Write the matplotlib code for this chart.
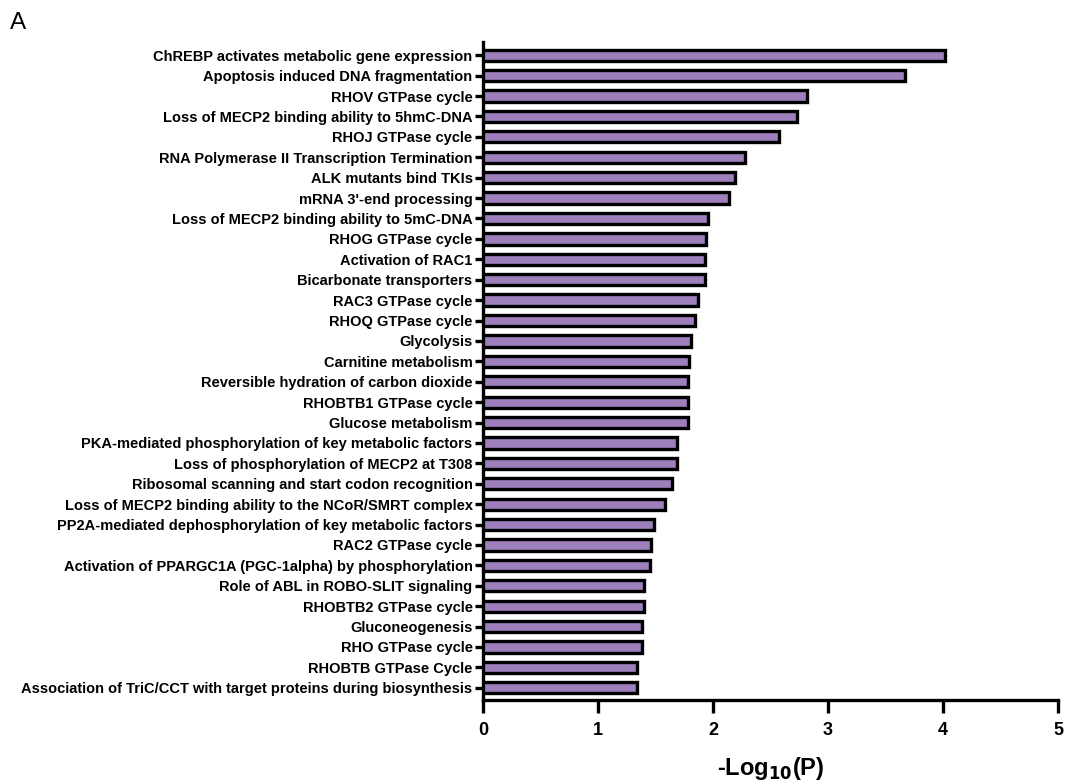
import matplotlib
matplotlib.use("Agg")
import matplotlib.pyplot as plt

plt.rcParams['font.family'] = ['Liberation Sans', 'DejaVu Sans']

pathways = [
    "ChREBP activates metabolic gene expression",
    "Apoptosis induced DNA fragmentation",
    "RHOV GTPase cycle",
    "Loss of MECP2 binding ability to 5hmC-DNA",
    "RHOJ GTPase cycle",
    "RNA Polymerase II Transcription Termination",
    "ALK mutants bind TKIs",
    "mRNA 3'-end processing",
    "Loss of MECP2 binding ability to 5mC-DNA",
    "RHOG GTPase cycle",
    "Activation of RAC1",
    "Bicarbonate transporters",
    "RAC3 GTPase cycle",
    "RHOQ GTPase cycle",
    "Glycolysis",
    "Carnitine metabolism",
    "Reversible hydration of carbon dioxide",
    "RHOBTB1 GTPase cycle",
    "Glucose metabolism",
    "PKA-mediated phosphorylation of key metabolic factors",
    "Loss of phosphorylation of MECP2 at T308",
    "Ribosomal scanning and start codon recognition",
    "Loss of MECP2 binding ability to the NCoR/SMRT complex",
    "PP2A-mediated dephosphorylation of key metabolic factors",
    "RAC2 GTPase cycle",
    "Activation of PPARGC1A (PGC-1alpha) by phosphorylation",
    "Role of ABL in ROBO-SLIT signaling",
    "RHOBTB2 GTPase cycle",
    "Gluconeogenesis",
    "RHO GTPase cycle",
    "RHOBTB GTPase Cycle",
    "Association of TriC/CCT with target proteins during biosynthesis",
]
neg_log10_p = [
    4.02, 3.67, 2.82, 2.73, 2.57, 2.28, 2.19, 2.14, 1.96, 1.94, 1.93, 1.93,
    1.87, 1.84, 1.81, 1.79, 1.78, 1.78, 1.78, 1.69, 1.69, 1.64, 1.58, 1.49,
    1.46, 1.45, 1.40, 1.40, 1.38, 1.38, 1.34, 1.34,
]
x_ticks = [0, 1, 2, 3, 4, 5]

fig = plt.figure(figsize=(10.67, 7.84), dpi=100)
ax = fig.add_axes([483/1067, 1 - 700/784, (1058-483)/1067, (700-42)/784])

ypos = list(range(len(pathways)))
ax.barh(ypos, neg_log10_p, height=0.55, color="#9c7fbb", edgecolor="black",
        linewidth=2.4, zorder=3)

ax.set_ylim(len(pathways) - 0.4, -0.65)
ax.set_xlim(0, 5)
ax.set_yticks(ypos)
ax.set_yticklabels(pathways, fontsize=10.5, fontweight="bold")
ax.set_xticks(x_ticks)
ax.set_xticklabels([str(t) for t in x_ticks], fontsize=13, fontweight="bold")
ax.tick_params(axis="y", length=6, width=2.4, pad=1.5)
ax.tick_params(axis="x", length=9, width=2.4, pad=7)
for s in ["top", "right"]:
    ax.spines[s].set_visible(False)
for s in ["left", "bottom"]:
    ax.spines[s].set_linewidth(2.4)
ax.set_xlabel(r"-Log$_{\mathbf{10}}$(P)", fontsize=17, fontweight="bold", labelpad=11)

fig.text(10/1067, 1 - 23/784, "A", fontsize=17.5, va="center", ha="left")

fig.savefig("out.png", dpi=100)
